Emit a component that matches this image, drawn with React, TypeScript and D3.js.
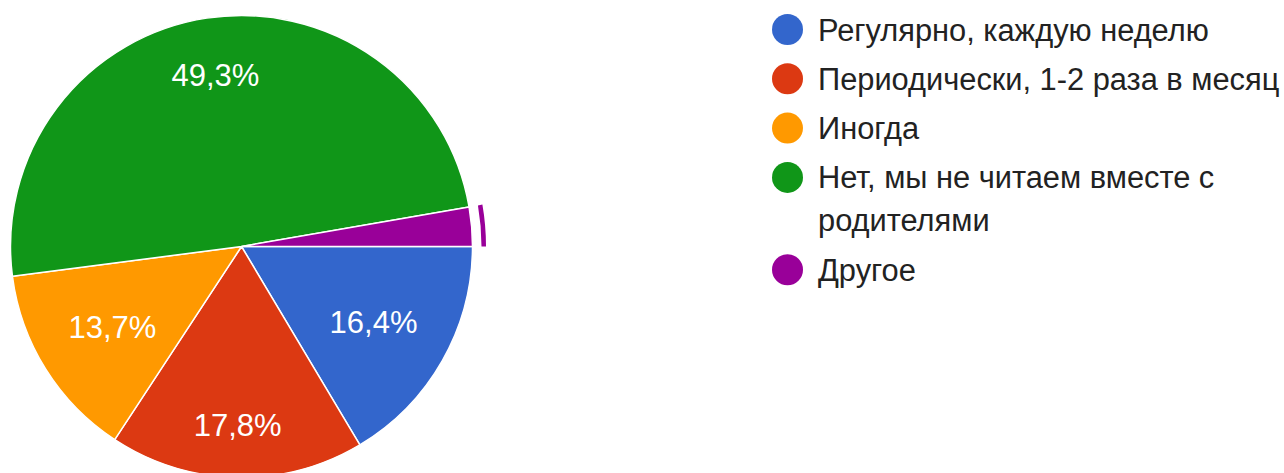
import React, { useEffect, useRef } from "react";
import * as d3 from "d3";

const categories = [
  "Регулярно, каждую неделю",
  "Периодически, 1-2 раза в месяц",
  "Иногда",
  "Нет, мы не читаем вместе с родителями",
  "Другое",
];
const counts = [12, 13, 10, 36, 2];
const colors = ["#3366CC", "#DC3912", "#FF9900", "#109618", "#990099"];
const legendLines = [
  ["Регулярно, каждую неделю"],
  ["Периодически, 1-2 раза в месяц"],
  ["Иногда"],
  ["Нет, мы не читаем вместе с", "родителями"],
  ["Другое"],
];
const highlighted = 4;

const W = 1284;
const H = 473;
const FONT = "'Liberation Sans', Arial, sans-serif";

export default function App() {
  const ref = useRef<SVGSVGElement | null>(null);

  useEffect(() => {
    const svg = d3.select(ref.current);
    svg.selectAll("*").remove();

    const cx = 241.5;
    const cy = 246.5;
    const r = 231;
    const labelSize = 31;
    const legendSize = 30.8;
    const total = d3.sum(counts);

    const pie = d3
      .pie<number>()
      .sort(null)
      .startAngle(Math.PI / 2)
      .endAngle(Math.PI / 2 + 2 * Math.PI)
      .value((d) => d);
    const arcs = pie(counts);
    const arc = d3.arc<d3.PieArcDatum<number>>().innerRadius(0).outerRadius(r);
    const ring = d3
      .arc<d3.PieArcDatum<number>>()
      .innerRadius(r + 9)
      .outerRadius(r + 13.5);

    const g = svg.append("g").attr("transform", `translate(${cx},${cy})`);
    g.selectAll("path.slice")
      .data(arcs)
      .join("path")
      .attr("class", "slice")
      .attr("d", arc)
      .attr("fill", (_, i) => colors[i])
      .attr("stroke", "#fff")
      .attr("stroke-width", 1.5)
      .attr("stroke-linejoin", "round");

    g.append("path")
      .datum(arcs[highlighted])
      .attr("d", ring)
      .attr("fill", colors[highlighted]);

    const fmt = (v: number) =>
      (Math.round((v / total) * 1000) / 10).toFixed(1).replace(".", ",") + "%";

    const R0 = 0.848 * r;
    arcs.forEach((a) => {
      const frac = a.value / total;
      if (frac < 0.05) return;
      const t = g
        .append("text")
        .text(fmt(a.value))
        .attr("fill", "#fff")
        .attr("font-family", FONT)
        .attr("font-size", labelSize)
        .attr("text-anchor", "middle");
      const w = (t.node() as SVGTextElement).getComputedTextLength();
      const h = labelSize * 0.716;
      const mid = (a.startAngle + a.endAngle) / 2;
      const ux = Math.sin(mid);
      const uy = -Math.cos(mid);
      const sx = ux >= 0 ? 1 : -1;
      const sy = uy >= 0 ? 1 : -1;
      const b = ux * sx * (w / 2) + uy * sy * (h / 2);
      const c = (w * w) / 4 + (h * h) / 4 - R0 * R0;
      const dist = -b + Math.sqrt(b * b - c);
      t.attr("x", dist * ux).attr("y", dist * uy + h / 2);
    });

    const lg = svg.append("g");
    const lx = 787.5;
    const tx = 818;
    let y = 29.5;
    categories.forEach((_, i) => {
      lg.append("circle")
        .attr("cx", lx)
        .attr("cy", y)
        .attr("r", 15.5)
        .attr("fill", colors[i]);
      legendLines[i].forEach((line, j) => {
        lg.append("text")
          .attr("x", tx)
          .attr("y", y + j * 43 + legendSize * 0.358)
          .attr("font-family", FONT)
          .attr("font-size", legendSize)
          .attr("fill", "#222222")
          .text(line);
      });
      y += 49.3 + (legendLines[i].length - 1) * 43;
    });
  }, []);

  return (
    <svg
      ref={ref}
      width={W}
      height={H}
      style={{ position: "absolute", left: 0, top: 0, background: "#fff" }}
    />
  );
}
